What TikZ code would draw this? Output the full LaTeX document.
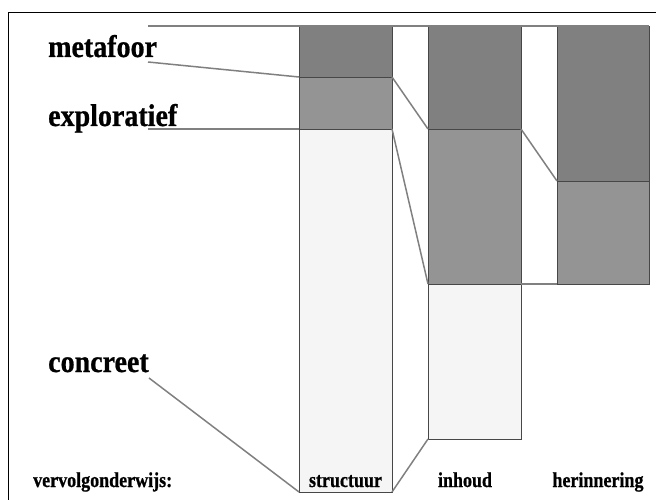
\documentclass[tikz,border=0pt]{standalone}
\usepackage{fontspec}
\setmainfont{Liberation Serif}
\newfontfamily\zwaar{Liberation Serif}[BoldFeatures={FakeBold=0.8}]
\begin{document}
\begin{tikzpicture}[x=1pt,y=-1pt,
  seg/.style={draw=black!72,line width=0.9pt,anchor=north west,inner sep=0pt,
    minimum width=93pt,outer sep=0pt},
  hoog/.style={seg,fill=black!50},
  midden/.style={seg,fill=black!42},
  laag/.style={seg,fill=black!4},
  verbind/.style={draw=black!50,line width=1.5pt},
  groot/.style={font=\zwaar\bfseries\fontsize{28}{28}\selectfont,anchor=base west,inner sep=0pt},
  klein/.style={font=\zwaar\bfseries\fontsize{18}{18}\selectfont,anchor=base,inner sep=0pt}]
\useasboundingbox (0,0) rectangle (656,500);
% outer frame, running off the page on the right and at the bottom
\draw[black,line width=0.9pt] (8,12) rectangle (680,520);

% column: structuur
\node[hoog,minimum height=51pt]   (s1) at (299,26)  {};
\node[midden,minimum height=52pt] (s2) at (299,77)  {};
\node[laag,minimum height=363pt]  (s3) at (299,129) {};
% column: inhoud
\node[hoog,minimum height=103pt]  (i1) at (428,26)  {};
\node[midden,minimum height=155pt](i2) at (428,129) {};
\node[laag,minimum height=155pt]  (i3) at (428,284) {};
% column: herinnering
\node[hoog,minimum height=155pt,minimum width=92pt]   (h1) at (557,26)  {};
\node[midden,minimum height=103pt,minimum width=92pt] (h2) at (557,181) {};

% level labels
\node[groot] (lm) at (48,57)  {\scalebox{1}[1.12]{metafoor}};
\node[groot] (le) at (48,126) {\scalebox{1}[1.12]{exploratief}};
\node[groot] (lc) at (48,372) {\scalebox{1}[1.12]{concreet}};
\coordinate (top) at (148,26);
\coordinate (pm) at (148,62);
\coordinate (pe) at (148,129);
\coordinate (pc) at (149,378);

% bottom labels
\node[klein,anchor=base west] (lv) at (33,487) {\scalebox{1}[1.18]{vervolgonderwijs:}};
\node[klein] (ls) at (s3.south |- 0,487) {\scalebox{1}[1.18]{structuur}};
\node[klein] (li) at (465,487) {\scalebox{1}[1.18]{inhoud}};
\node[klein] (lh) at (598,487) {\scalebox{1}[1.18]{herinnering}};

% connectors
\draw[verbind] (top) -- (h1.north east);
\draw[verbind] (pm) -- (s1.south west);
\draw[verbind] (pe) -- (s2.south west);
\draw[verbind] (pc) -- (s3.south west);
\draw[verbind] (s1.south east) -- (i1.south west);
\draw[verbind] (s2.south east) -- (i2.south west);
\draw[verbind] (s3.south east) -- (i3.south west);
\draw[verbind] (i1.south east) -- (h1.south west);
\draw[verbind] (i2.south east) -- (h2.south west);
\end{tikzpicture}
\end{document}
